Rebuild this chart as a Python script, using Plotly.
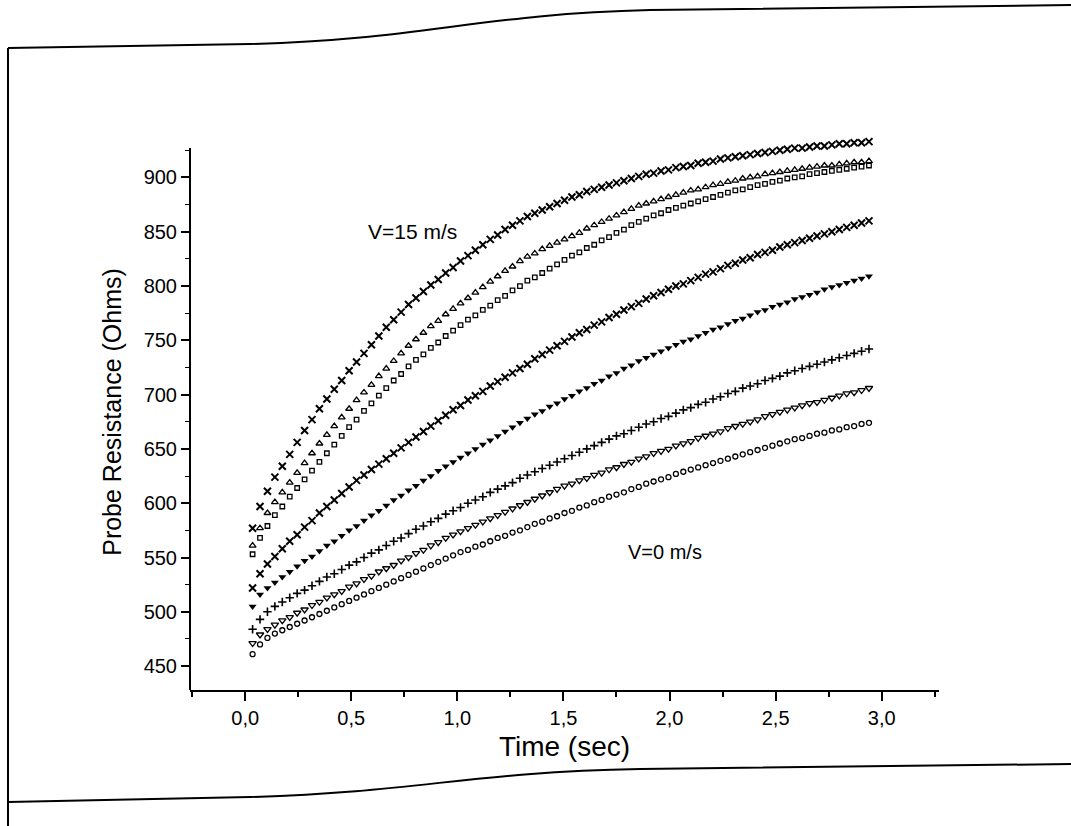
import plotly.graph_objects as go

# ---------------- data ----------------
time_s = [round(0.035 * k, 3) for k in range(1, 85)]

v15_x = [577, 597, 611, 624, 634, 645, 656, 667, 677, 687, 696, 705, 713, 722, 730, 738, 746, 754, 762, 769,
         776, 783, 789, 795, 801, 806, 812, 817, 823, 828, 833, 838, 843, 847, 852, 856, 860, 864, 867, 870,
         873, 876, 879, 882, 884, 887, 889, 891, 893, 895, 897, 899, 901, 903, 904, 906, 907, 909, 910, 911,
         913, 914, 915, 917, 918, 919, 920, 921, 922, 923, 924, 925, 926, 927, 927, 928, 929, 929, 930, 931,
         931, 932, 932, 933]

tri_up = [561, 577, 591, 601, 610, 619, 628, 637, 646, 655, 663, 671, 679, 687, 695, 702, 709, 717, 724, 731,
          738, 745, 751, 757, 763, 768, 774, 779, 784, 789, 794, 799, 804, 809, 814, 818, 823, 827, 830, 834,
          837, 840, 843, 846, 849, 853, 856, 859, 862, 865, 868, 871, 874, 876, 878, 880, 882, 884, 886, 888,
          889, 891, 893, 894, 896, 897, 899, 900, 901, 903, 904, 905, 906, 907, 908, 909, 910, 911, 911, 912,
          913, 914, 914, 915]

square = [553, 568, 579, 589, 597, 606, 614, 622, 630, 638, 646, 654, 662, 670, 677, 685, 692, 699, 706, 713,
          719, 726, 732, 737, 743, 748, 754, 759, 764, 769, 773, 778, 782, 787, 791, 796, 800, 805, 808, 812,
          816, 820, 824, 828, 831, 835, 838, 842, 845, 849, 852, 856, 859, 862, 865, 867, 870, 872, 874, 876,
          878, 880, 882, 884, 886, 888, 889, 891, 893, 894, 896, 897, 899, 900, 901, 903, 904, 905, 906, 907,
          908, 909, 910, 911]

cross_x2 = [522, 535, 544, 551, 558, 565, 571, 578, 584, 591, 597, 603, 609, 615, 621, 626, 631, 636, 641, 646,
            651, 656, 661, 666, 671, 676, 681, 686, 690, 695, 699, 703, 708, 712, 716, 720, 724, 728, 733, 737,
            741, 745, 749, 753, 757, 760, 764, 767, 771, 774, 778, 781, 784, 788, 791, 794, 797, 800, 802, 805,
            808, 811, 813, 816, 819, 821, 824, 826, 829, 831, 833, 836, 838, 840, 842, 844, 846, 848, 850, 852,
            854, 856, 858, 860]

tri_down_f = [505, 516, 522, 527, 532, 537, 542, 547, 551, 556, 561, 565, 570, 575, 579, 584, 589, 593, 598, 603,
              607, 612, 616, 621, 625, 630, 634, 638, 642, 646, 650, 654, 658, 662, 666, 670, 674, 678, 682, 685,
              689, 692, 696, 699, 703, 706, 710, 713, 717, 720, 724, 727, 731, 734, 737, 740, 743, 746, 749, 751,
              754, 757, 760, 762, 765, 768, 770, 773, 776, 778, 781, 783, 785, 788, 790, 792, 794, 797, 799, 801,
              803, 805, 807, 809]

plus = [484, 493, 500, 505, 509, 513, 517, 520, 524, 528, 532, 535, 539, 543, 546, 550, 554, 557, 561, 565,
        568, 572, 576, 579, 583, 586, 590, 593, 596, 600, 603, 606, 610, 613, 616, 619, 623, 626, 629, 632,
        635, 638, 641, 644, 647, 650, 653, 656, 659, 662, 664, 667, 670, 673, 675, 678, 680, 683, 686, 688,
        691, 693, 696, 698, 701, 703, 706, 708, 710, 713, 715, 717, 720, 722, 724, 726, 728, 730, 732, 734,
        736, 738, 740, 742]

tri_down_o = [471, 479, 484, 488, 492, 495, 499, 502, 506, 509, 513, 516, 519, 523, 526, 530, 533, 537, 540, 543,
              547, 550, 554, 557, 561, 564, 568, 571, 574, 577, 580, 583, 586, 589, 592, 595, 598, 601, 604, 607,
              610, 613, 616, 618, 621, 623, 626, 628, 631, 633, 636, 638, 641, 643, 646, 648, 650, 653, 655, 657,
              660, 662, 664, 666, 669, 671, 673, 675, 677, 680, 682, 684, 686, 688, 690, 692, 693, 695, 697, 699,
              701, 702, 704, 706]

v0_circle = [461, 470, 476, 480, 483, 486, 489, 492, 495, 498, 501, 504, 507, 510, 513, 516, 519, 522, 525, 528,
             531, 534, 537, 540, 543, 546, 549, 552, 555, 557, 560, 562, 565, 568, 570, 573, 575, 578, 581, 583,
             586, 588, 591, 593, 596, 598, 601, 603, 606, 608, 610, 613, 615, 618, 620, 622, 624, 627, 629, 631,
             633, 635, 637, 639, 641, 643, 645, 647, 649, 651, 653, 655, 657, 659, 660, 662, 664, 665, 667, 668,
             670, 671, 673, 674]

x_tickvals = [0.0, 0.5, 1.0, 1.5, 2.0, 2.5, 3.0]
x_ticktext = ["0,0", "0,5", "1,0", "1,5", "2,0", "2,5", "3,0"]
y_tickvals = [450, 500, 550, 600, 650, 700, 750, 800, 850, 900]
y_ticktext = [str(v) for v in y_tickvals]

# ---------------- figure ----------------
W, H = 1071, 826
ML, MR, MT, MB = 190, 132, 134, 136
PW, PH = W - ML - MR, H - MT - MB
Y_AXIS_TOP = 927

series = [
    (v15_x, dict(symbol="x-thin", size=7, line=dict(width=2, color="black"))),
    (tri_up, dict(symbol="triangle-up-open", size=6, line=dict(width=1.3, color="black"))),
    (square, dict(symbol="square-open", size=4.5, line=dict(width=1.3, color="black"))),
    (cross_x2, dict(symbol="x-thin", size=7, line=dict(width=2, color="black"))),
    (tri_down_f, dict(symbol="triangle-down", size=7, color="black", line=dict(width=0))),
    (plus, dict(symbol="cross-thin", size=6, line=dict(width=1.6, color="black"))),
    (tri_down_o, dict(symbol="triangle-down-open", size=6.5, line=dict(width=1.3, color="black"))),
    (v0_circle, dict(symbol="circle-open", size=5, line=dict(width=1.3, color="black"))),
]

fig = go.Figure()
for vals, mk in series:
    mk.setdefault("color", "black")
    fig.add_trace(go.Scatter(x=time_s, y=vals, mode="markers", marker=mk,
                             showlegend=False, hoverinfo="x+y"))

FONT = "Liberation Sans, Arial, Helvetica, sans-serif"

fig.update_xaxes(
    range=[-0.26, 3.27], showline=True, linecolor="black", linewidth=2,
    ticks="outside", ticklen=9, tickwidth=2, tickcolor="black",
    tickvals=x_tickvals, ticktext=x_ticktext,
    minor=dict(ticks="outside", ticklen=5, tickwidth=1.5, tickcolor="black", dtick=0.25, tick0=0),
    showgrid=False, zeroline=False,
    tickfont=dict(family=FONT, size=20, color="black"),
    title=dict(text="Time (sec)", font=dict(family=FONT, size=28, color="black"), standoff=8),
)
fig.update_yaxes(
    range=[428, 940], showline=False,
    ticks="outside", ticklen=8, tickwidth=1.5, tickcolor="black",
    tickvals=y_tickvals, ticktext=y_ticktext,
    minor=dict(ticks="outside", ticklen=4, tickwidth=1.2, tickcolor="black",
               tickvals=[475, 525, 575, 625, 675, 725, 775, 825, 875, 925]),
    showgrid=False, zeroline=False,
    tickfont=dict(family=FONT, size=20, color="black"),
    title=dict(text="Probe Resistance (Ohms)", font=dict(family=FONT, size=25, color="black"), standoff=14),
)


def px(x):
    return (x - ML) / PW


def py(y):
    return (H - MB - y) / PH


def P(x, y):
    return f"{px(x):.5f},{py(y):.5f}"


frame = dict(color="black", width=2)
shapes = [
    # y-axis spine (ends just above the 900 tick, like the original)
    dict(type="line", xref="paper", yref="y", x0=0, x1=0, y0=428, y1=Y_AXIS_TOP,
         line=dict(color="black", width=2)),
    dict(type="path", xref="paper", yref="paper",
         path=f"M {P(8,48)} L {P(250,44)} C {P(420,40)} {P(480,14)} {P(650,10)} L {P(1071,5)}",
         line=frame),
    dict(type="path", xref="paper", yref="paper",
         path=f"M {P(8,802)} L {P(250,797)} C {P(420,792)} {P(470,772)} {P(640,769)} L {P(1071,764)}",
         line=frame),
    dict(type="line", xref="paper", yref="paper", x0=px(8), x1=px(8), y0=py(48), y1=py(826),
         line=frame),
]

fig.update_layout(
    width=W, height=H,
    margin=dict(l=ML, r=MR, t=MT, b=MB, autoexpand=False),
    paper_bgcolor="white", plot_bgcolor="white",
    font=dict(family=FONT, color="black"),
    shapes=shapes,
    annotations=[
        dict(x=0.79, y=850, xref="x", yref="y", text="V=15 m/s", showarrow=False,
             font=dict(family=FONT, size=21, color="black")),
        dict(x=1.98, y=555, xref="x", yref="y", text="V=0 m/s", showarrow=False,
             font=dict(family=FONT, size=20, color="black")),
    ],
)

fig.write_html("out.html")
